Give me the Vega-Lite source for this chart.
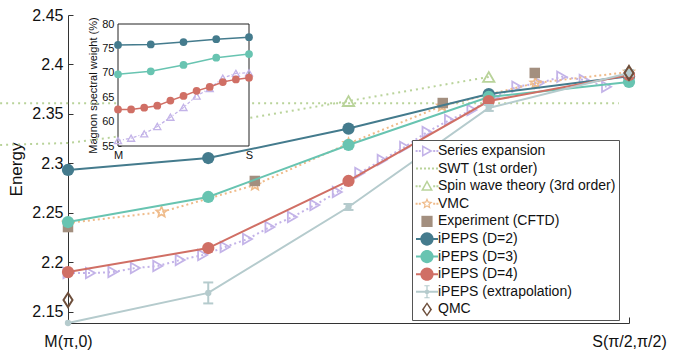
{
  "$schema": "https://vega.github.io/schema/vega-lite/v6.json",
  "width": 561,
  "height": 308,
  "autosize": {"type": "none"},
  "padding": {"left": 68, "top": 15, "right": 49, "bottom": 28},
  "config": {
    "view": {"stroke": null},
    "font": "Liberation Sans",
    "axis": {"grid": false, "domainColor": "#333", "tickColor": "#333", "labelColor": "#111", "titleColor": "#111", "labelFont": "Liberation Sans", "titleFont": "Liberation Sans"}
  },
  "datasets": {
    "main": [
      {"s": "SE", "t": 0, "v": 2.1891}, {"s": "SE", "t": 0.04, "v": 2.1891}, {"s": "SE", "t": 0.08, "v": 2.1901},
      {"s": "SE", "t": 0.12, "v": 2.1942}, {"s": "SE", "t": 0.16, "v": 2.1962}, {"s": "SE", "t": 0.2, "v": 2.2023},
      {"s": "SE", "t": 0.24, "v": 2.2073}, {"s": "SE", "t": 0.28, "v": 2.2154}, {"s": "SE", "t": 0.32, "v": 2.2235},
      {"s": "SE", "t": 0.36, "v": 2.2356}, {"s": "SE", "t": 0.4, "v": 2.2458}, {"s": "SE", "t": 0.44, "v": 2.2579},
      {"s": "SE", "t": 0.48, "v": 2.271}, {"s": "SE", "t": 0.52, "v": 2.2902}, {"s": "SE", "t": 0.56, "v": 2.3034},
      {"s": "SE", "t": 0.6, "v": 2.3165}, {"s": "SE", "t": 0.64, "v": 2.3317}, {"s": "SE", "t": 0.68, "v": 2.3438},
      {"s": "SE", "t": 0.72, "v": 2.3539}, {"s": "SE", "t": 0.76, "v": 2.367}, {"s": "SE", "t": 0.8, "v": 2.3775},
      {"s": "SE", "t": 0.84, "v": 2.3812}, {"s": "SE", "t": 0.88, "v": 2.3876}, {"s": "SE", "t": 0.92, "v": 2.3843},
      {"s": "SE", "t": 0.96, "v": 2.3775},
      {"s": "SWT1", "t": -0.121, "v": 2.3608}, {"s": "SWT1", "t": 0.982, "v": 2.3608},
      {"s": "SW3", "t": -0.121, "v": 2.3186}, {"s": "SW3", "t": 0, "v": 2.3206}, {"s": "SW3", "t": 0.25, "v": 2.3388},
      {"s": "SW3", "t": 0.5, "v": 2.363}, {"s": "SW3", "t": 0.75, "v": 2.3873},
      {"s": "VMC", "t": 0, "v": 2.2397}, {"s": "VMC", "t": 0.1667, "v": 2.2508}, {"s": "VMC", "t": 0.3333, "v": 2.2781},
      {"s": "VMC", "t": 0.5, "v": 2.3201}, {"s": "VMC", "t": 0.6667, "v": 2.358}, {"s": "VMC", "t": 0.8333, "v": 2.3812},
      {"s": "VMC", "t": 1, "v": 2.3924},
      {"s": "EXP", "t": 0, "v": 2.2356}, {"s": "EXP", "t": 0.333, "v": 2.2822}, {"s": "EXP", "t": 0.668, "v": 2.361},
      {"s": "EXP", "t": 0.832, "v": 2.3914},
      {"s": "D2", "t": 0, "v": 2.2933}, {"s": "D2", "t": 0.25, "v": 2.3054}, {"s": "D2", "t": 0.5, "v": 2.3352},
      {"s": "D2", "t": 0.75, "v": 2.3701}, {"s": "D2", "t": 1, "v": 2.388},
      {"s": "D3", "t": 0, "v": 2.2407}, {"s": "D3", "t": 0.25, "v": 2.266}, {"s": "D3", "t": 0.5, "v": 2.3186},
      {"s": "D3", "t": 0.75, "v": 2.3671}, {"s": "D3", "t": 1, "v": 2.3823},
      {"s": "D4", "t": 0, "v": 2.1901}, {"s": "D4", "t": 0.25, "v": 2.2144}, {"s": "D4", "t": 0.5, "v": 2.2822},
      {"s": "D4", "t": 0.75, "v": 2.363}, {"s": "D4", "t": 1, "v": 2.3893},
      {"s": "EX", "t": 0, "v": 2.1386, "lo": 2.1386, "hi": 2.1386},
      {"s": "EX", "t": 0.25, "v": 2.169, "lo": 2.1584, "hi": 2.1796},
      {"s": "EX", "t": 0.5, "v": 2.2559, "lo": 2.2529, "hi": 2.2589},
      {"s": "EX", "t": 0.75, "v": 2.356, "lo": 2.353, "hi": 2.359},
      {"s": "EX", "t": 1, "v": 2.3914, "lo": 2.3884, "hi": 2.3944},
      {"s": "QMC", "t": 0, "v": 2.1618}, {"s": "QMC", "t": 1, "v": 2.3914}
    ],
    "inset": [
      {"s": "D2", "t": 0, "w": 75.7}, {"s": "D2", "t": 0.25, "w": 75.8}, {"s": "D2", "t": 0.5, "w": 76.3},
      {"s": "D2", "t": 0.75, "w": 76.9}, {"s": "D2", "t": 1, "w": 77.3},
      {"s": "D3", "t": 0, "w": 69.7}, {"s": "D3", "t": 0.25, "w": 70.3}, {"s": "D3", "t": 0.5, "w": 71.6},
      {"s": "D3", "t": 0.75, "w": 73.1}, {"s": "D3", "t": 1, "w": 73.85},
      {"s": "D4", "t": 0, "w": 62.5}, {"s": "D4", "t": 0.1, "w": 62.5}, {"s": "D4", "t": 0.2, "w": 62.85},
      {"s": "D4", "t": 0.3, "w": 63.25}, {"s": "D4", "t": 0.4, "w": 64.3}, {"s": "D4", "t": 0.5, "w": 65.25},
      {"s": "D4", "t": 0.6, "w": 66.3}, {"s": "D4", "t": 0.7, "w": 67.1}, {"s": "D4", "t": 0.8, "w": 68.1},
      {"s": "D4", "t": 0.9, "w": 68.65}, {"s": "D4", "t": 1, "w": 69.0},
      {"s": "SE", "t": 0, "w": 56.1}, {"s": "SE", "t": 0.1, "w": 56.6}, {"s": "SE", "t": 0.2, "w": 57.5},
      {"s": "SE", "t": 0.3, "w": 59.0}, {"s": "SE", "t": 0.4, "w": 60.9}, {"s": "SE", "t": 0.5, "w": 62.9},
      {"s": "SE", "t": 0.6, "w": 65.25}, {"s": "SE", "t": 0.7, "w": 66.8}, {"s": "SE", "t": 0.8, "w": 68.9},
      {"s": "SE", "t": 0.9, "w": 69.9}, {"s": "SE", "t": 1, "w": 70.0}
    ],
    "frame": [{"t": 0, "t2": 1, "w": 55, "w2": 80}]
  },
  "resolve": {
    "scale": {"x": "independent", "y": "independent"},
    "axis": {"x": "independent", "y": "independent"}
  },
  "layer": [
    {
      "data": {"name": "main"},
      "encoding": {
        "x": {
          "field": "t", "type": "quantitative",
          "scale": {"domain": [0, 1], "nice": false, "zero": false},
          "axis": {"orient": "bottom", "offset": 0, "domain": true, "ticks": true, "values": [0, 1], "labelExpr": "datum.value == 0 ? 'M(π,0)' : 'S(π/2,π/2)'", "title": null, "tickSize": -6, "labelPadding": 16, "labelFontSize": 16, "labelFlush": false, "labelOverlap": false}
        },
        "y": {
          "field": "v", "type": "quantitative",
          "scale": {"domain": [2.1386, 2.45], "nice": false, "zero": false},
          "axis": {"orient": "left", "offset": 0, "domain": true, "ticks": true, "values": [2.15, 2.2, 2.25, 2.3, 2.35, 2.4, 2.45], "format": ".2~f", "title": "Energy", "tickSize": -5, "labelPadding": 10, "labelFontSize": 16, "titleFontSize": 17, "titleFontWeight": "normal", "titlePadding": 6, "labelFlush": false}
        }
      },
      "layer": [
        {"transform": [{"filter": "datum.s == 'SE'"}], "mark": {"type": "line", "color": "#c3b3e8", "strokeWidth": 2, "strokeDash": [2, 3]}},
        {"transform": [{"filter": "datum.s == 'SE'"}], "mark": {"type": "point", "shape": "triangle-right", "filled": false, "color": "#c3b3e8", "strokeWidth": 1.8, "size": 110, "opacity": 1}},
        {"transform": [{"filter": "datum.s == 'SWT1'"}], "mark": {"type": "line", "color": "#b9d39a", "strokeWidth": 2, "strokeDash": [2, 4]}},
        {"transform": [{"filter": "datum.s == 'SW3'"}], "mark": {"type": "line", "color": "#b9d39a", "strokeWidth": 2, "strokeDash": [2, 4]}},
        {"transform": [{"filter": "datum.s == 'SW3' && datum.t >= 0.25"}], "mark": {"type": "point", "shape": "triangle-up", "filled": false, "color": "#b9d39a", "strokeWidth": 1.8, "size": 130, "opacity": 1}},
        {"transform": [{"filter": "datum.s == 'VMC'"}], "mark": {"type": "line", "color": "#efbb8a", "strokeWidth": 2, "strokeDash": [2, 3]}},
        {"transform": [{"filter": "datum.s == 'VMC'"}], "mark": {"type": "point", "shape": "M0,-1L0.2645,-0.3641L0.9511,-0.309L0.428,0.1391L0.5878,0.809L0,0.45L-0.5878,0.809L-0.428,0.1391L-0.9511,-0.309L-0.2645,-0.3641Z", "filled": false, "color": "#efbb8a", "strokeWidth": 1.6, "size": 121, "opacity": 1}},
        {"transform": [{"filter": "datum.s == 'EXP'"}], "mark": {"type": "point", "shape": "square", "filled": true, "color": "#a38f7f", "size": 110, "opacity": 1}},
        {"transform": [{"filter": "datum.s == 'D2'"}], "mark": {"type": "line", "color": "#447b8d", "strokeWidth": 2}},
        {"transform": [{"filter": "datum.s == 'D2'"}], "mark": {"type": "point", "shape": "circle", "filled": true, "color": "#447b8d", "size": 150, "opacity": 1}},
        {"transform": [{"filter": "datum.s == 'D3'"}], "mark": {"type": "line", "color": "#68c4b1", "strokeWidth": 2}},
        {"transform": [{"filter": "datum.s == 'D3'"}], "mark": {"type": "point", "shape": "circle", "filled": true, "color": "#68c4b1", "size": 150, "opacity": 1}},
        {"transform": [{"filter": "datum.s == 'D4'"}], "mark": {"type": "line", "color": "#d06f65", "strokeWidth": 2}},
        {"transform": [{"filter": "datum.s == 'D4'"}], "mark": {"type": "point", "shape": "circle", "filled": true, "color": "#d06f65", "size": 150, "opacity": 1}},
        {"transform": [{"filter": "datum.s == 'EX'"}], "mark": {"type": "line", "color": "#b5cbcd", "strokeWidth": 2}},
        {"transform": [{"filter": "datum.s == 'EX' && datum.hi > datum.lo"}], "mark": {"type": "rule", "color": "#b5cbcd", "strokeWidth": 2},
         "encoding": {"y": {"field": "lo", "type": "quantitative"}, "y2": {"field": "hi"}}},
        {"transform": [{"filter": "datum.s == 'EX' && datum.hi > datum.lo"}], "mark": {"type": "tick", "orient": "horizontal", "color": "#b5cbcd", "size": 10, "thickness": 2, "opacity": 1},
         "encoding": {"y": {"field": "lo", "type": "quantitative"}}},
        {"transform": [{"filter": "datum.s == 'EX' && datum.hi > datum.lo"}], "mark": {"type": "tick", "orient": "horizontal", "color": "#b5cbcd", "size": 10, "thickness": 2, "opacity": 1},
         "encoding": {"y": {"field": "hi", "type": "quantitative"}}},
        {"transform": [{"filter": "datum.s == 'EX'"}], "mark": {"type": "point", "shape": "circle", "filled": true, "color": "#b5cbcd", "size": 40, "opacity": 1}},
        {"transform": [{"filter": "datum.s == 'QMC'"}], "mark": {"type": "point", "shape": "M0,-0.7L0.45,0L0,0.7L-0.45,0Z", "filled": false, "color": "#6e4f3c", "strokeWidth": 2, "size": 400, "opacity": 1}},
        {
          "data": {"values": [{"s": "Series expansion"}]},
          "transform": [{"filter": "datum.s == 'none'"}],
          "mark": {"type": "point", "filled": true, "opacity": 1},
          "encoding": {
            "color": {
              "field": "s", "type": "nominal",
              "scale": {
                "domain": ["Series expansion", "SWT (1st order)", "Spin wave theory (3rd order)", "VMC", "Experiment (CFTD)", "iPEPS (D=2)", "iPEPS (D=3)", "iPEPS (D=4)", "iPEPS (extrapolation)", "QMC"],
                "range": ["#c3b3e8", "#b9d39a", "#b9d39a", "#efbb8a", "#a38f7f", "#447b8d", "#68c4b1", "#d06f65", "#b5cbcd", "#6e4f3c"]
              },
              "legend": {"orient": "none", "legendX": 344, "legendY": 125, "title": null, "fillColor": "white", "strokeColor": "#555", "padding": 3, "rowPadding": 2.6, "labelFontSize": 14, "labelFont": "Liberation Sans", "labelColor": "#111", "labelOffset": 3, "symbolOffset": 4, "symbolSize": 256, "symbolStrokeWidth": 0, "symbolOpacity": 1, "labelLimit": 0, "cornerRadius": 0}
            },
            "shape": {
              "field": "s", "type": "nominal",
              "scale": {
                "domain": ["Series expansion", "SWT (1st order)", "Spin wave theory (3rd order)", "VMC", "Experiment (CFTD)", "iPEPS (D=2)", "iPEPS (D=3)", "iPEPS (D=4)", "iPEPS (extrapolation)", "QMC"],
                "range": [
                  "M-1.425,-0.125H-1.175V0.125H-1.425Z M-1.025,-0.125H-0.775V0.125H-1.025Z M0.775,-0.125H1.025V0.125H0.775Z M1.175,-0.125H1.425V0.125H1.175Z M-0.63,-0.75L0.72,0L-0.63,0.75Z M-0.435,-0.405L-0.435,0.405L0.3,0Z",
                  "M-1.375,-0.125H-1.125V0.125H-1.375Z M-0.875,-0.125H-0.625V0.125H-0.875Z M-0.375,-0.125H-0.125V0.125H-0.375Z M0.125,-0.125H0.375V0.125H0.125Z M0.625,-0.125H0.875V0.125H0.625Z M1.125,-0.125H1.375V0.125H1.125Z",
                  "M-1.425,-0.125H-1.175V0.125H-1.425Z M-1.025,-0.125H-0.775V0.125H-1.025Z M0.775,-0.125H1.025V0.125H0.775Z M1.175,-0.125H1.425V0.125H1.175Z M0,-0.78L0.75,0.57L-0.75,0.57Z M0,-0.405L-0.42,0.375L0.42,0.375Z",
                  "M-1.425,-0.125H-1.175V0.125H-1.425Z M-1.025,-0.125H-0.775V0.125H-1.025Z M0.775,-0.125H1.025V0.125H0.775Z M1.175,-0.125H1.425V0.125H1.175Z M0,-0.75L0.1985,-0.2732L0.7134,-0.2318L0.321,0.1044L0.4409,0.6068L0,0.3375L-0.4409,0.6068L-0.321,0.1044L-0.7134,-0.2318L-0.1985,-0.2732Z M0,-0.375L-0.0992,-0.1365L-0.3567,-0.116L-0.1605,0.0522L-0.2205,0.3035L0,0.1688L0.2205,0.3035L0.1605,0.0522L0.3567,-0.116L0.0992,-0.1365Z",
                  "M-0.7,-0.7H0.7V0.7H-0.7Z",
                  "M-1.375,-0.125H1.375V0.125H-1.375Z M0.83,0A0.83,0.83 0 1,1 -0.83,0A0.83,0.83 0 1,1 0.83,0Z",
                  "M-1.375,-0.125H1.375V0.125H-1.375Z M0.83,0A0.83,0.83 0 1,1 -0.83,0A0.83,0.83 0 1,1 0.83,0Z",
                  "M-1.375,-0.125H1.375V0.125H-1.375Z M0.83,0A0.83,0.83 0 1,1 -0.83,0A0.83,0.83 0 1,1 0.83,0Z",
                  "M-1.375,-0.125H1.375V0.125H-1.375Z M-0.08,-0.75H0.08V0.75H-0.08Z M-0.33,-0.82H0.33V-0.68H-0.33Z M-0.33,0.68H0.33V0.82H-0.33Z M0.3,0A0.3,0.3 0 1,1 -0.3,0A0.3,0.3 0 1,1 0.3,0Z",
                  "M0,-0.9L0.63,0L0,0.9L-0.63,0Z M0,-0.6L-0.39,0L0,0.6L0.39,0Z"
                ]
              },
              "legend": {"orient": "none", "legendX": 344, "legendY": 125, "title": null, "fillColor": "white", "strokeColor": "#555", "padding": 3, "rowPadding": 2.6, "labelFontSize": 14, "labelFont": "Liberation Sans", "labelColor": "#111", "labelOffset": 3, "symbolOffset": 4, "symbolSize": 256, "symbolStrokeWidth": 0, "symbolOpacity": 1, "labelLimit": 0, "cornerRadius": 0}
            }
          }
        }
      ]
    },
    {
      "data": {"name": "inset"},
      "encoding": {
        "x": {
          "field": "t", "type": "quantitative",
          "scale": {"domain": [0, 1], "range": [50, 181], "nice": false, "zero": false},
          "axis": {"orient": "bottom", "offset": -177, "values": [0, 1], "labelExpr": "datum.value == 0 ? 'M' : 'S'", "title": null, "ticks": false, "domain": false, "labelPadding": 3, "labelFontSize": 11, "labelFlush": false, "labelOverlap": false}
        },
        "y": {
          "field": "w", "type": "quantitative",
          "scale": {"domain": [55, 80], "range": [131, 9], "nice": false, "zero": false},
          "axis": {"orient": "left", "offset": -50, "values": [55, 60, 65, 70, 75, 80], "title": "Magnon spectral weight (%)", "titleFontSize": 11, "titleFontWeight": "normal", "labelFontSize": 11, "ticks": true, "tickSize": -3, "labelPadding": 7, "domain": false, "titlePadding": 3, "labelFlush": false}
        }
      },
      "layer": [
        {
          "data": {"name": "frame"},
          "mark": {"type": "rect", "fill": "white", "stroke": "#222", "strokeWidth": 1},
          "encoding": {
            "x2": {"field": "t2"},
            "y2": {"field": "w2"}
          }
        },
        {"transform": [{"filter": "datum.s == 'SE'"}], "mark": {"type": "line", "color": "#c3b3e8", "strokeWidth": 1.3, "strokeDash": [3, 2, 1, 2]}},
        {"transform": [{"filter": "datum.s == 'SE'"}], "mark": {"type": "point", "shape": "triangle-up", "filled": false, "color": "#c3b3e8", "strokeWidth": 1.3, "size": 50, "opacity": 1}},
        {"transform": [{"filter": "datum.s == 'D2'"}], "mark": {"type": "line", "color": "#447b8d", "strokeWidth": 1.5}},
        {"transform": [{"filter": "datum.s == 'D2'"}], "mark": {"type": "point", "shape": "circle", "filled": true, "color": "#447b8d", "size": 60, "opacity": 1}},
        {"transform": [{"filter": "datum.s == 'D3'"}], "mark": {"type": "line", "color": "#68c4b1", "strokeWidth": 1.5}},
        {"transform": [{"filter": "datum.s == 'D3'"}], "mark": {"type": "point", "shape": "circle", "filled": true, "color": "#68c4b1", "size": 60, "opacity": 1}},
        {"transform": [{"filter": "datum.s == 'D4'"}], "mark": {"type": "line", "color": "#d06f65", "strokeWidth": 1.5}},
        {"transform": [{"filter": "datum.s == 'D4'"}], "mark": {"type": "point", "shape": "circle", "filled": true, "color": "#d06f65", "size": 60, "opacity": 1}}
      ]
    }
  ]
}
